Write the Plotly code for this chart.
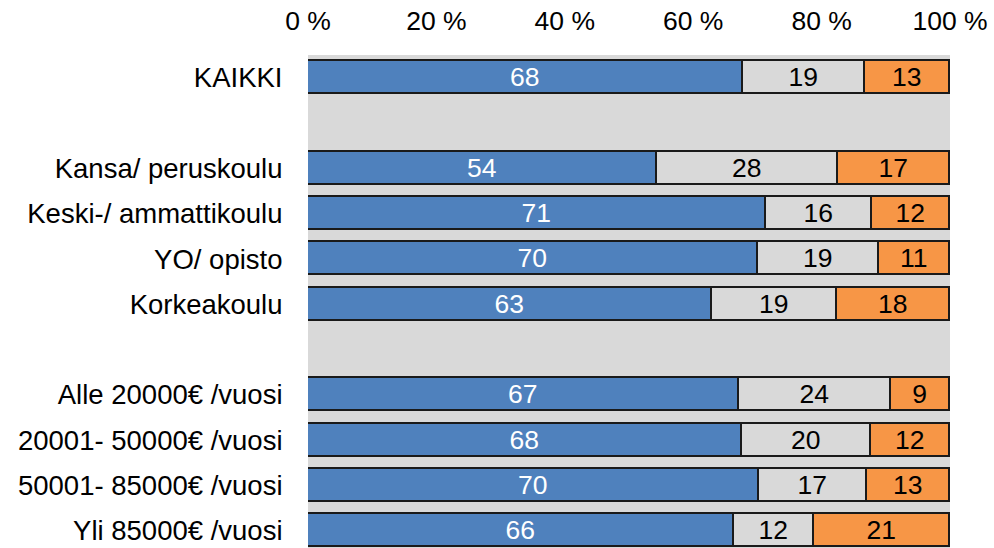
import plotly.graph_objects as go

categories = ["KAIKKI", "", "Kansa/ peruskoulu", "Keski-/ ammattikoulu", "YO/ opisto",
              "Korkeakoulu", "", "Alle 20000€ /vuosi", "20001- 50000€ /vuosi",
              "50001- 85000€ /vuosi", "Yli 85000€ /vuosi"]
blue_vals = [67.8, None, 54.4, 71.4, 70.1, 63.0, None, 67.2, 67.6, 70.3, 66.4]
grey_vals = [19.0, None, 28.2, 16.4, 18.9, 19.4, None, 23.6, 20.1, 16.7, 12.4]
orange_vals = [13.2, None, 17.4, 12.2, 11.0, 17.6, None, 9.2, 12.3, 13.0, 21.2]
x_ticks = [0, 20, 40, 60, 80, 100]
x_ticklabels = ["0 %", "20 %", "40 %", "60 %", "80 %", "100 %"]

FONT = "Liberation Sans, Arial, sans-serif"
positions = list(range(len(categories)))
label_pos = [p for p, c in zip(positions, categories) if c]
label_txt = [c for c in categories if c]

fig = go.Figure()
series = [
    (blue_vals, "#4f81bd", "white"),
    (grey_vals, "#d9d9d9", "black"),
    (orange_vals, "#f79646", "black"),
]
for vals, color, tcolor in series:
    fig.add_trace(go.Bar(
        y=positions, x=vals, orientation="h", width=0.73,
        marker=dict(color=color, line=dict(color="#1a1a1a", width=1.6)),
        texttemplate="%{x:.0f}", textposition="inside", insidetextanchor="middle",
        textangle=0, constraintext="none",
        textfont=dict(family=FONT, size=26.5, color=tcolor),
        hoverinfo="skip", showlegend=False,
    ))

fig.update_layout(
    barmode="stack", width=994, height=548,
    margin=dict(l=307.5, r=44, t=55, b=0, pad=0),
    paper_bgcolor="white", plot_bgcolor="#d9d9d9",
    font=dict(family=FONT, size=27.5, color="black"),
    bargap=0,
)
fig.update_xaxes(side="top", range=[0, 100], tickvals=x_ticks, ticktext=x_ticklabels,
                 showgrid=False, zeroline=False, showline=False,
                 ticks="outside", ticklen=13, tickcolor="rgba(0,0,0,0)",
                 tickfont=dict(family=FONT, size=26.5, color="black"))
fig.update_yaxes(range=[10.38, -0.5], tickvals=label_pos, ticktext=label_txt,
                 showgrid=False, zeroline=False, showline=False,
                 ticks="outside", ticklen=19, tickcolor="rgba(0,0,0,0)",
                 tickfont=dict(family=FONT, size=27.5, color="black"))

fig.write_html(
    "out.html",
    config={"displayModeBar": False},
    post_script="document.body.style.margin='0';document.body.style.overflow='hidden';",
)
